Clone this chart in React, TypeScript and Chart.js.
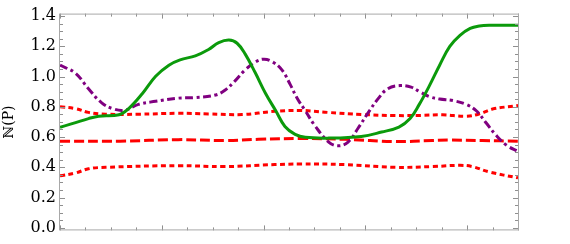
import React, { useEffect, useRef } from "react";
import { Chart, registerables } from "chart.js";

Chart.register(...registerables);

// ---- data (x in arbitrary units 0..4.5, y = ℕ(P)) ----
const greenX = [0, 0.28, 0.38, 0.58, 0.67, 0.81, 0.94, 1.07, 1.18, 1.33, 1.46, 1.56, 1.66, 1.74, 1.82, 1.92, 2.02, 2.12, 2.21, 2.31, 2.41, 2.64, 2.96, 3.16, 3.33, 3.44, 3.53, 3.63, 3.73, 3.83, 3.93, 4.03, 4.12, 4.22, 4.5];
const greenY = [0.664, 0.722, 0.738, 0.747, 0.785, 0.888, 1.002, 1.075, 1.11, 1.137, 1.179, 1.224, 1.241, 1.22, 1.148, 1.023, 0.888, 0.774, 0.67, 0.618, 0.598, 0.593, 0.604, 0.633, 0.666, 0.722, 0.816, 0.94, 1.075, 1.199, 1.272, 1.318, 1.334, 1.339, 1.339];

const purpleX = [0, 0.15, 0.28, 0.41, 0.53, 0.64, 0.77, 0.94, 1.16, 1.33, 1.53, 1.62, 1.72, 1.82, 1.92, 2.0, 2.08, 2.18, 2.26, 2.33, 2.41, 2.51, 2.64, 2.73, 2.83, 2.93, 3.03, 3.13, 3.22, 3.34, 3.45, 3.54, 3.63, 3.73, 3.86, 3.99, 4.09, 4.19, 4.29, 4.39, 4.5];
const purpleY = [1.075, 1.023, 0.919, 0.826, 0.785, 0.778, 0.816, 0.836, 0.857, 0.861, 0.878, 0.909, 0.971, 1.044, 1.096, 1.115, 1.1, 1.044, 0.95, 0.857, 0.774, 0.67, 0.567, 0.542, 0.567, 0.66, 0.763, 0.857, 0.919, 0.94, 0.93, 0.897, 0.867, 0.851, 0.841, 0.816, 0.774, 0.691, 0.608, 0.545, 0.505];

const redUpperX = [0, 0.15, 0.28, 0.45, 0.77, 1.16, 1.46, 1.79, 2.11, 2.36, 2.63, 2.97, 3.29, 3.54, 3.76, 3.99, 4.12, 4.25, 4.5];
const redUpperY = [0.8, 0.788, 0.763, 0.751, 0.751, 0.757, 0.753, 0.749, 0.77, 0.776, 0.763, 0.749, 0.742, 0.743, 0.747, 0.738, 0.753, 0.785, 0.808];

const redMidX = [0, 0.59, 1.16, 1.62, 1.95, 2.36, 2.8, 3.29, 3.66, 3.83, 4.15, 4.5];
const redMidY = [0.573, 0.573, 0.583, 0.577, 0.585, 0.59, 0.585, 0.57, 0.577, 0.58, 0.577, 0.573];

const redLowerX = [0, 0.15, 0.28, 0.45, 1.16, 1.62, 2.11, 2.36, 2.8, 3.29, 3.66, 3.93, 4.05, 4.22, 4.5];
const redLowerY = [0.344, 0.362, 0.39, 0.4, 0.411, 0.405, 0.418, 0.422, 0.418, 0.4, 0.405, 0.413, 0.405, 0.369, 0.33];

const yTickValues = [0, 0.2, 0.4, 0.6, 0.8, 1.0, 1.2, 1.4];
const yTitle = "ℕ(P)";

const X_MIN = 0;
const X_MAX = 4.5;
const Y_MIN = -0.017;
const Y_MAX = 1.416;

const zip = (xs: number[], ys: number[]) => xs.map((x, i) => ({ x, y: ys[i] }));

const framePlugin = {
  id: "frameTicks",
  afterDraw(chart: any) {
    const { ctx, chartArea, scales } = chart;
    const { left, right, top, bottom } = chartArea;
    const xs = scales.x;
    const ys = scales.y;
    ctx.save();
    ctx.lineWidth = 1;
    ctx.strokeStyle = "#8f8f8f";
    for (let k = 0; k <= 28; k++) {
      const v = k * 0.05;
      const major = k % 4 === 0;
      const len = major ? 5 : 3;
      const py = Math.round(ys.getPixelForValue(v)) + 0.5;
      ctx.beginPath();
      ctx.moveTo(left, py);
      ctx.lineTo(left + len, py);
      ctx.moveTo(right, py);
      ctx.lineTo(right - len, py);
      ctx.stroke();
    }
    for (let k = 0; k <= 18; k++) {
      const v = k * 0.25;
      const major = k % 4 === 0;
      const len = major ? 5 : 3;
      const px = Math.round(xs.getPixelForValue(v)) + 0.5;
      ctx.beginPath();
      ctx.moveTo(px, bottom);
      ctx.lineTo(px, bottom - len);
      ctx.moveTo(px, top);
      ctx.lineTo(px, top + len);
      ctx.stroke();
    }
    ctx.strokeStyle = "#a8a8a8";
    ctx.strokeRect(left - 0.5, top + 0.5, right - left + 1, bottom - top - 1);
    ctx.restore();
  },
};

export default function App() {
  const ref = useRef<HTMLCanvasElement | null>(null);

  useEffect(() => {
    if (!ref.current) return;
    const common = {
      pointRadius: 0,
      borderWidth: 3,
      fill: false,
      tension: 0.4,
      borderCapStyle: "butt" as const,
    };
    const chart = new Chart(ref.current, {
      type: "line",
      data: {
        datasets: [
          { ...common, label: "green", data: zip(greenX, greenY), borderColor: "#0b9a0b" },
          { ...common, label: "purple", data: zip(purpleX, purpleY), borderColor: "#800080", borderDash: [8, 3.5, 3, 3.5] },
          { ...common, label: "upper", data: zip(redUpperX, redUpperY), borderColor: "#ff0000", borderDash: [5, 3.5] },
          { ...common, label: "mid", data: zip(redMidX, redMidY), borderColor: "#ff0000", borderDash: [10, 4] },
          { ...common, label: "lower", data: zip(redLowerX, redLowerY), borderColor: "#ff0000", borderDash: [5, 3.5] },
        ],
      },
      options: {
        animation: false,
        responsive: false,
        devicePixelRatio: 1,
        layout: { padding: { left: 0, right: 52, top: 7, bottom: 7 } },
        plugins: { legend: { display: false }, tooltip: { enabled: false } },
        scales: {
          x: {
            type: "linear",
            min: X_MIN,
            max: X_MAX,
            display: false,
          },
          y: {
            type: "linear",
            min: Y_MIN,
            max: Y_MAX,
            afterBuildTicks: (scale: any) => {
              scale.ticks = yTickValues.map((v) => ({ value: v }));
            },
            afterFit: (scale: any) => {
              scale.width = 60;
            },
            grid: { display: false, drawTicks: false },
            border: { display: false },
            ticks: {
              padding: 4,
              color: "#000",
              font: { family: "DejaVu Serif", size: 16 },
              callback: (v: any) => Number(v).toFixed(1),
            },
            title: {
              display: true,
              text: yTitle,
              color: "#000",
              font: { family: "DejaVu Serif", size: 14 },
              padding: { top: 1, bottom: 0 },
            },
          },
        },
      },
      plugins: [framePlugin],
    });
    return () => chart.destroy();
  }, []);

  return (
    <div style={{ position: "fixed", left: 0, top: 0, width: 570, height: 244, background: "#fff" }}>
      <canvas ref={ref} width={570} height={244} />
    </div>
  );
}
